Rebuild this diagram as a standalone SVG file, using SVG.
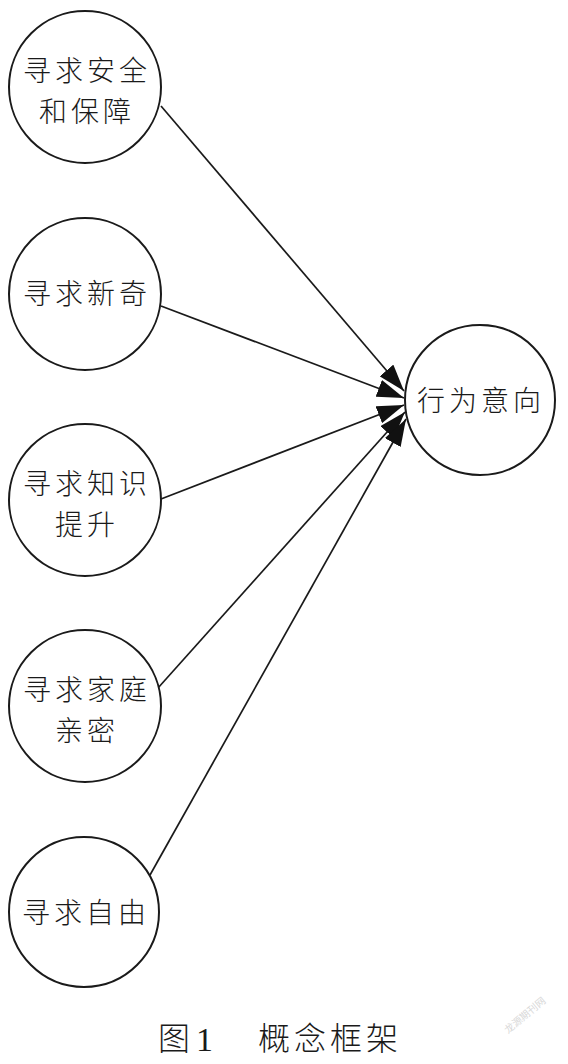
<svg xmlns="http://www.w3.org/2000/svg" width="568" height="1064" viewBox="0 0 568 1064">
<defs>
<style>
.node circle{fill:#fff;stroke:#1a1a1a;stroke-width:2}
.node text{font-family:"Noto Sans CJK SC","Noto Sans CJK JP",sans-serif;font-size:28px;font-weight:300;fill:#1a1a1a;text-anchor:middle;letter-spacing:4px}
.edge{stroke:#1a1a1a;stroke-width:1.7;fill:none;marker-end:url(#ah)}
.cap{font-family:"Noto Sans CJK SC",sans-serif;font-size:32px;font-weight:300;fill:#1a1a1a;letter-spacing:4px}
</style>
<marker id="ah" markerUnits="userSpaceOnUse" markerWidth="28" markerHeight="18" refX="27" refY="9" orient="auto">
<path d="M0,0 L27,9 L0,18 z" fill="#111"/>
</marker>
</defs>
<rect width="568" height="1064" fill="#fff"/>
<g id="connectors">
<line class="edge" x1="161" y1="106" x2="404" y2="391"/>
<line class="edge" x1="161" y1="306" x2="404" y2="398"/>
<line class="edge" x1="161" y1="499" x2="404" y2="405"/>
<line class="edge" x1="158" y1="688" x2="405" y2="412"/>
<line class="edge" x1="150" y1="875" x2="406" y2="419"/>
</g>
<g id="n1" class="node"><circle cx="85" cy="87" r="76"/><text x="87" y="81">寻求安全<tspan x="87" dy="41">和保障</tspan></text></g>
<g id="n2" class="node"><circle cx="85" cy="294" r="76"/><text x="87" y="304">寻求新奇</text></g>
<g id="n3" class="node"><circle cx="85" cy="500" r="76"/><text x="87" y="494">寻求知识<tspan x="87" dy="41">提升</tspan></text></g>
<g id="n4" class="node"><circle cx="85" cy="706" r="76"/><text x="87" y="700">寻求家庭<tspan x="87" dy="41">亲密</tspan></text></g>
<g id="n5" class="node"><circle cx="84" cy="912" r="75"/><text x="86" y="923">寻求自由</text></g>
<g id="target" class="node"><circle cx="480" cy="400" r="75"/><text x="481" y="411">行为意向</text></g>
<g id="caption">
<text class="cap" x="158" y="1050">图</text>
<text x="196" y="1051" font-family="Liberation Serif" font-size="34" fill="#1a1a1a">1</text>
<text class="cap" x="258" y="1050">概念框架</text>
<text x="508" y="1034" transform="rotate(-40 508 1034)" font-family="Noto Sans CJK SC,sans-serif" font-size="10" fill="#d8d8d8">龙源期刊网</text>
</g>
</svg>
